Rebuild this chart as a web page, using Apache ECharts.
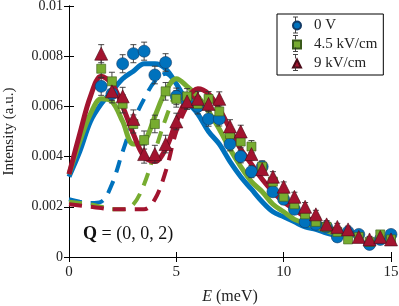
<!DOCTYPE html>
<html><head><meta charset="utf-8">
<script src="https://cdn.jsdelivr.net/npm/echarts@6/dist/echarts.min.js"></script>
<style>html,body{margin:0;padding:0;background:#fff}#c{width:399px;height:306px}</style>
</head><body><div id="c"></div>
<script>
// ---------- data ----------
const energy = [1.5,2,2.5,3,3.5,4,4.5,5,5.5,6,6.5,7,7.5,8,8.5,9,9.5,10,10.5,11,11.5,12,12.5,13,13.5,14,14.5,15];
const int0V  = [0.0068,0.0065,0.0077,0.0081,0.0082,0.00725,0.00775,0.0064,0.0062,0.0060,0.0055,0.0055,0.0045,0.0040,0.0034,0.0036,0.0026,0.0023,0.0019,0.0014,0.0013,0.0012,0.0008,0.0010,0.0009,0.0005,0.0007,0.0009];
const int45  = [0.0075,0.0070,0.0061,0.0053,0.00466,0.0053,0.0066,0.0063,0.0064,0.0061,0.0063,0.0058,0.0049,0.0046,0.0044,0.0036,0.0030,0.0024,0.0021,0.0017,0.0014,0.0012,0.0010,0.0007,0.0008,0.0006,0.0009,0.0007];
const int9   = [0.0081,0.0066,0.0064,0.0055,0.0041,0.0041,0.0045,0.0054,0.0062,0.0063,0.0061,0.0063,0.0052,0.0050,0.0041,0.0035,0.0032,0.0028,0.0024,0.0020,0.0017,0.0013,0.0012,0.0011,0.0008,0.0007,0.0008,0.0007];
const errAll = [0.00036,0.00036,0.00036,0.00036,0.00036,0.00035,0.00035,0.00033,0.00031,0.0003,0.00029,0.00028,0.00027,0.00025,0.00024,0.00022,0.0002,0.00019,0.00018,0.00017,0.00016,0.00015,0.00014,0.00013,0.00012,0.00012,0.00012,0.00012];

const fitE    = [0,0.5,1,1.5,2,2.5,3,3.5,4,4.5,5,5.5,6,6.5,7,7.5,8,8.5,9,9.5,10,10.5,11,11.5,12,12.5];
const fit0V   = [0.0032,0.0042,0.0054,0.0061,0.0066,0.0071,0.0074,0.0077,0.0077,0.0075,0.0069,0.0062,0.0057,0.0050,0.0045,0.0038,0.0032,0.0027,0.0022,0.0018,0.0016,0.0014,0.0012,0.0011,0.00095,0.00085];
const fit45   = [0.0033,0.0046,0.0057,0.0063,0.0062,0.0054,0.0045,0.0046,0.0056,0.0066,0.0071,0.0068,0.0064,0.0058,0.0051,0.0043,0.0036,0.0030,0.0026,0.0021,0.0018,0.0015,0.00135,0.0012,0.00105,0.0009];
const fit9    = [0.0033,0.0049,0.0064,0.0072,0.0069,0.0060,0.0049,0.0040,0.0038,0.0043,0.0054,0.0063,0.0067,0.0065,0.0059,0.0051,0.0043,0.0037,0.0031,0.0026,0.0022,0.0019,0.0016,0.0014,0.0012,0.00105];

const dashE   = [0,0.5,1,1.5,2,2.5,3,3.5,4,4.5,5,5.5,6];
const dash0V  = [0.0023,0.0022,0.00215,0.0022,0.0029,0.0042,0.0054,0.0063,0.0070,0.0073,0.0069,null,null];
const dash45  = [0.0022,0.00215,0.0021,0.0020,0.0019,0.0019,0.0021,0.0029,0.0042,0.0055,0.0065,0.0068,null];
const dash9   = [0.0021,0.00205,0.0020,0.00195,0.0019,0.0019,0.0019,0.0019,0.0023,0.0034,0.0050,0.0060,0.0066];

const seriesNames = ['0 V','4.5 kV/cm','9 kV/cm'];
const xTicks = [0,5,10,15];
const yTickLabels = ['0','0.002','0.004','0.006','0.008','0.01'];

// ---------- style ----------
const FONT = '"Liberation Serif", "DejaVu Serif", serif';
const colors = ['#0072BD','#77AC30','#A2142F'];
const edges  = ['#123a66','#3a5a1a','#4a0a18'];
const symbols = ['circle','rect','triangle'];
const symSizes = [12,9,13];

const chart = echarts.init(document.getElementById('c'), null, {renderer:'canvas'});

function pairs(xs, ys){ return xs.map((x,i)=>[x, ys[i]]); }

function errSeries(i, vals){
  return {
    type:'custom', name:'err'+i, z:3, silent:true,
    renderItem:(params, api)=>{
      const x = api.value(0);
      const lo = api.coord([x, api.value(1)]);
      const hi = api.coord([x, api.value(2)]);
      const cw = 3;
      const st = {stroke:'#333', lineWidth:0.9};
      return {type:'group', children:[
        {type:'line', shape:{x1:lo[0],y1:lo[1],x2:hi[0],y2:hi[1]}, style:st},
        {type:'line', shape:{x1:lo[0]-cw,y1:lo[1],x2:lo[0]+cw,y2:lo[1]}, style:st},
        {type:'line', shape:{x1:hi[0]-cw,y1:hi[1],x2:hi[0]+cw,y2:hi[1]}, style:st}
      ]};
    },
    encode:{x:0,y:[1,2]},
    data: energy.map((e,k)=>[e, vals[k]-errAll[k], vals[k]+errAll[k]])
  };
}

const dataSets = [int0V,int45,int9];
const fits = [fit0V,fit45,fit9];
const dashes = [dash0V,dash45,dash9];

const series = [];
dashes.forEach((d,i)=>series.push({
  type:'line', name:'dash'+i, z:1, silent:true, showSymbol:false, smooth:0.35,
  connectNulls:false,
  data: pairs(dashE, d),
  lineStyle:{color:colors[i], width:4, type:[13,9]}
}));
fits.forEach((f,i)=>series.push({
  type:'line', name:'fit'+i, z:2, silent:true, showSymbol:false, smooth:0.35,
  data: pairs(fitE, f),
  lineStyle:{color:colors[i], width:5}
}));
dataSets.forEach((d,i)=>series.push(errSeries(i,d)));
dataSets.forEach((d,i)=>series.push({
  type:'scatter', name:seriesNames[i], z:4,
  symbol:symbols[i], symbolSize:symSizes[i],
  itemStyle:{color:colors[i], borderColor:edges[i], borderWidth:0.6, opacity:1},
  data: pairs(energy, d)
}));

const axisCommon = {
  axisLine:{show:true, lineStyle:{color:'#000', width:1}},
  axisTick:{show:true, inside:true, length:5, lineStyle:{color:'#000'}},
  splitLine:{show:false}
};

// legend error-bar decorations
const legendBars = [];
[25,43.5,62.5].forEach(cy=>{
  const st = {stroke:'#333', lineWidth:0.9};
  legendBars.push({type:'line', z:100, shape:{x1:295.5,y1:cy-8,x2:295.5,y2:cy-4}, style:st});
  legendBars.push({type:'line', z:100, shape:{x1:295.5,y1:cy+4,x2:295.5,y2:cy+8}, style:st});
  legendBars.push({type:'line', z:100, shape:{x1:293,y1:cy-8,x2:298,y2:cy-8}, style:st});
  legendBars.push({type:'line', z:100, shape:{x1:293,y1:cy+8,x2:298,y2:cy+8}, style:st});
});

const option = {
  animation:false,
  backgroundColor:'#fff',
  grid:{left:69, right:8, top:6, bottom:49, containLabel:false, outerBoundsMode:'none'},
  xAxis:[
    Object.assign({type:'value', min:0, max:15, interval:5, position:'bottom',
      axisLabel:{fontFamily:FONT, fontSize:15, color:'#222', margin:8,
        formatter:v=>xTicks.includes(v)?String(v):''},
      name:'{i|E} (meV)', nameLocation:'middle', nameGap:32,
      nameTextStyle:{fontFamily:FONT, fontSize:16, color:'#222',
        rich:{i:{fontFamily:FONT, fontStyle:'italic', fontSize:16, color:'#222'}}}
    }, axisCommon),
    Object.assign({type:'value', min:0, max:15, interval:5, position:'top',
      axisLabel:{show:false}}, axisCommon)
  ],
  yAxis:[
    Object.assign({type:'value', min:0, max:0.01, interval:0.002, position:'left',
      axisLabel:{fontFamily:FONT, fontSize:14, color:'#222', margin:6,
        formatter:(v)=>yTickLabels[Math.round(v/0.002)]},
      name:'Intensity (a.u.)', nameLocation:'middle', nameGap:52, nameRotate:90,
      nameTextStyle:{fontFamily:FONT, fontSize:15, color:'#222'}
    }, axisCommon),
    Object.assign({type:'value', min:0, max:0.01, interval:0.002, position:'right',
      axisLabel:{show:false}}, axisCommon)
  ],
  legend:{
    data:seriesNames, orient:'vertical', left:277, top:14,
    width:106,
    backgroundColor:'#fff', borderColor:'#000', borderWidth:1,
    padding:[4,6,4,15], itemGap:4, itemWidth:8, itemHeight:8,
    textStyle:{fontFamily:FONT, fontSize:15, color:'#222', padding:[0,0,0,8], lineHeight:15}
  },
  graphic:[
    {type:'text', left:83, top:225, z:10,
      style:{text:'{b|Q} = (0, 0, 2)', fontFamily:FONT, fontSize:18, fill:'#111',
        rich:{b:{fontFamily:FONT, fontWeight:'bold', fontSize:18, fill:'#111'}}}}
  ].concat(legendBars),
  series:series
};
chart.setOption(option);
</script></body></html>
